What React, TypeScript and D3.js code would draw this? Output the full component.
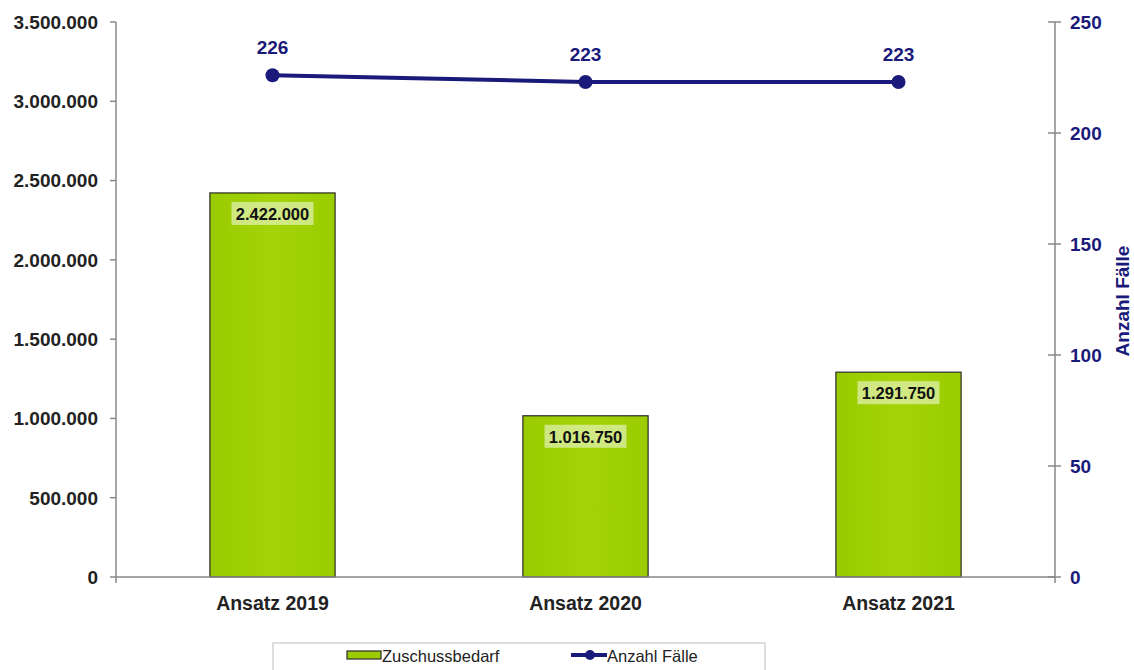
import React from 'react';
import * as d3 from 'd3';

const categories = ['Ansatz 2019', 'Ansatz 2020', 'Ansatz 2021'];
const zuschuss = [2422000, 1016750, 1291750];
const faelle = [226, 223, 223];
const leftTicks = [0, 500000, 1000000, 1500000, 2000000, 2500000, 3000000, 3500000];
const rightTicks = [0, 50, 100, 150, 200, 250];

const W = 1134;
const H = 670;
const NAVY = '#1a1a7a';
const GREEN = '#9ccc00';
const FONT = '"Liberation Sans", Arial, sans-serif';

const fmt = (v: number) => d3.format(',')(v).replace(/,/g, '.');

const App: React.FC = () => {
  const left = 116;
  const right = 1055;
  const top = 22;
  const bottom = 577;

  const x = d3.scaleBand<string>()
    .domain(categories)
    .range([left, right])
    .paddingInner(0.6)
    .paddingOuter(0.3);

  const yL = d3.scaleLinear().domain([0, 3500000]).range([bottom, top]);
  const yR = d3.scaleLinear().domain([0, 250]).range([bottom, top]);

  const cx = (c: string) => (x(c) as number) + x.bandwidth() / 2;

  const line = d3.line<number>()
    .x((_, i) => cx(categories[i]))
    .y(d => yR(d));

  return (
    <div style={{ position: 'absolute', left: 0, top: 0 }}>
      <svg width={W} height={H} style={{ display: 'block', background: '#fff' }} fontFamily={FONT}>
        <defs>
          <linearGradient id="barGrad" x1="0" x2="1" y1="0" y2="0">
            <stop offset="0" stopColor="#99cb00" />
            <stop offset="0.5" stopColor="#a4d407" />
            <stop offset="1" stopColor="#9acc00" />
          </linearGradient>
        </defs>

        {/* bars */}
        {categories.map((c, i) => (
          <rect
            key={c}
            x={x(c)}
            y={yL(zuschuss[i])}
            width={x.bandwidth()}
            height={bottom - yL(zuschuss[i])}
            fill="url(#barGrad)"
            stroke="#2a2a2a"
            strokeWidth={1.2}
          />
        ))}

        {/* bar labels */}
        {categories.map((c, i) => {
          const ty = yL(zuschuss[i]) + 27;
          return (
            <g key={'lab' + c}>
              <rect x={cx(c) - 41} y={ty - 18} width={82} height={23} fill="#ffffff" opacity={0.5} />
              <text x={cx(c)} y={ty} textAnchor="middle" fontSize={16.5} fontWeight="bold" fill="#111">
                {fmt(zuschuss[i])}
              </text>
            </g>
          );
        })}

        {/* axes */}
        <line x1={left} x2={right} y1={bottom} y2={bottom} stroke="#888" strokeWidth={1.5} />
        <line x1={left} x2={left} y1={top} y2={bottom + 6} stroke="#888" strokeWidth={1.5} />
        <line x1={right} x2={right} y1={top} y2={bottom + 6} stroke="#888" strokeWidth={1.5} />

        {leftTicks.map(t => (
          <g key={'l' + t}>
            <line x1={left - 6} x2={left} y1={yL(t)} y2={yL(t)} stroke="#888" strokeWidth={1.5} />
            <text x={left - 18} y={yL(t)} dy="0.36em" textAnchor="end" fontSize={19} fontWeight="bold" fill="#222">
              {fmt(t)}
            </text>
          </g>
        ))}

        {rightTicks.map(t => (
          <g key={'r' + t}>
            <line x1={right - 7} x2={right + 6} y1={yR(t)} y2={yR(t)} stroke="#888" strokeWidth={1.5} />
            <text x={right + 15} y={yR(t)} dy="0.36em" textAnchor="start" fontSize={19} fontWeight="bold" fill={NAVY}>
              {t}
            </text>
          </g>
        ))}

        <text
          transform={`translate(${1129},${301}) rotate(-90)`}
          textAnchor="middle"
          fontSize={19}
          fill={NAVY}
          fontWeight="bold"
        >
          Anzahl Fälle
        </text>

        {categories.map(c => (
          <text key={'x' + c} x={cx(c)} y={610} textAnchor="middle" fontSize={19.5} fontWeight="bold" fill="#222">
            {c}
          </text>
        ))}

        {/* line series */}
        <path d={line(faelle) || ''} fill="none" stroke={NAVY} strokeWidth={4} />
        {faelle.map((v, i) => (
          <g key={'p' + i}>
            <circle cx={cx(categories[i])} cy={yR(v)} r={7} fill={NAVY} />
            <text x={cx(categories[i])} y={yR(v) - 21} textAnchor="middle" fontSize={19} fontWeight="bold" fill={NAVY}>
              {v}
            </text>
          </g>
        ))}

        {/* legend */}
        <rect x={273} y={643} width={492} height={40} fill="#fff" stroke="#c8c8c8" strokeWidth={1.2} />
        <rect x={347} y={651} width={34} height={8} fill={GREEN} stroke="#2a2a2a" strokeWidth={1.2} />
        <text x={382} y={662} fontSize={16.5} fill="#222">Zuschussbedarf</text>
        <line x1={571} x2={607} y1={655} y2={655} stroke={NAVY} strokeWidth={4} />
        <circle cx={590} cy={655} r={5} fill={NAVY} />
        <text x={607} y={662} fontSize={16.5} fill="#222">Anzahl Fälle</text>
      </svg>
    </div>
  );
};

export default App;
